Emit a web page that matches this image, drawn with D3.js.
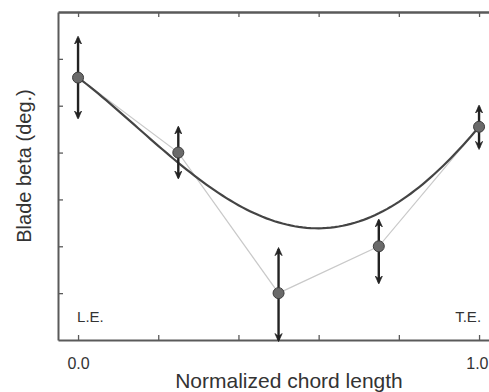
<!DOCTYPE html>
<html>
<head>
<meta charset="utf-8">
<script src="https://cdn.jsdelivr.net/npm/d3@7/dist/d3.min.js"></script>
<style>
  html, body { margin: 0; padding: 0; background: #fff; }
  svg { display: block; font-family: "Liberation Sans", Arial, sans-serif; }
</style>
</head>
<body>
<svg id="chart" width="489" height="392"></svg>
<script>
// Control points of the blade beta distribution (normalized chord, beta)
const chord = [0.0, 0.25, 0.5, 0.75, 1.0];
const beta = [5.6, 4.0, 1.0, 2.0, 4.55];
// Allowed adjustment range of each control point
const rangeUp = [0.85, 0.53, 0.94, 0.55, 0.43];
const rangeDown = [0.85, 0.53, 1.0, 0.77, 0.45];
// Axis ticks
const xTicks = [0, 0.2, 0.4, 0.6, 0.8, 1.0];
const xTickLabels = ["0.0", "", "", "", "", "1.0"];
const yTicks = [1, 2, 3, 4, 5, 6];

const svg = d3.select("#chart");
const x = d3.scaleLinear().domain([-0.05, 1.05]).range([58, 499.1]);
const y = d3.scaleLinear().domain([0, 7]).range([340, 12]);

const axisColor = "#5a5a5a";

// Bottom axis
const gx = svg.append("g").attr("transform", `translate(0,${y(0)})`)
  .call(d3.axisBottom(x).tickValues(xTicks).tickSizeInner(-5).tickSizeOuter(0)
    .tickPadding(18).tickFormat((d, i) => xTickLabels[i]));
// Top axis
const gt = svg.append("g").attr("transform", `translate(0,${y(7)})`)
  .call(d3.axisTop(x).tickValues(xTicks).tickSizeInner(-5).tickSizeOuter(0).tickFormat(""));
// Left axis
const gy = svg.append("g").attr("transform", `translate(${x(-0.05)},0)`)
  .call(d3.axisLeft(y).tickValues(yTicks).tickSizeInner(-5).tickSizeOuter(0).tickFormat(""));

[gx, gt, gy].forEach(g => {
  g.select(".domain").attr("stroke", axisColor).attr("stroke-width", 2);
  g.selectAll(".tick line").attr("stroke", axisColor).attr("stroke-width", 1.3);
});
gt.select(".domain").attr("stroke-width", 2.4);
gx.selectAll(".tick text")
  .attr("font-size", 16).attr("fill", "#333").attr("font-family", "Liberation Sans, Arial, sans-serif");
// keep the last label inside the right edge
gx.selectAll(".tick text").filter((d, i) => i === xTicks.length - 1)
  .attr("text-anchor", "end").attr("x", 488 - x(1));

// Control polygon
const pts = chord.map((c, i) => [c, beta[i]]);
svg.append("path")
  .attr("d", d3.line().x(d => x(d[0])).y(d => y(d[1]))(pts))
  .attr("fill", "none").attr("stroke", "#c9c9c9").attr("stroke-width", 1.2);

// Bezier curve defined by the control points (de Casteljau evaluation)
function bezier(p, t) {
  let q = p.map(d => d.slice());
  for (let k = 1; k < q.length; k++)
    for (let i = 0; i < q.length - k; i++)
      q[i] = [q[i][0] * (1 - t) + q[i + 1][0] * t, q[i][1] * (1 - t) + q[i + 1][1] * t];
  return q[0];
}
const curve = d3.range(0, 1.0001, 0.01).map(t => bezier(pts, t));
svg.append("path")
  .attr("d", d3.line().x(d => x(d[0])).y(d => y(d[1]))(curve))
  .attr("fill", "none").attr("stroke", "#444").attr("stroke-width", 2.2);

// Double-headed arrows showing the adjustment range
const defs = svg.append("defs");
defs.append("marker").attr("id", "head")
  .attr("viewBox", "0 0 10 10").attr("refX", 8).attr("refY", 5)
  .attr("markerWidth", 3.4).attr("markerHeight", 3.4).attr("orient", "auto-start-reverse")
  .attr("markerUnits", "strokeWidth")
  .append("path").attr("d", "M0,0.5 L10,5 L0,9.5 L3.5,5 Z")
  .attr("fill", "#222").attr("stroke", "#222").attr("stroke-width", 0.8).attr("stroke-linejoin", "round");

svg.append("g").selectAll("line").data(chord).join("line")
  .attr("x1", d => x(d)).attr("x2", d => x(d))
  .attr("y1", (d, i) => y(beta[i] - rangeDown[i]))
  .attr("y2", (d, i) => y(beta[i] + rangeUp[i]))
  .attr("stroke", "#222").attr("stroke-width", 2.4)
  .attr("marker-start", "url(#head)").attr("marker-end", "url(#head)");

// Control point markers
svg.append("g").selectAll("circle").data(chord).join("circle")
  .attr("cx", d => x(d)).attr("cy", (d, i) => y(beta[i]))
  .attr("r", 5.5).attr("fill", "#6a6a6a").attr("stroke", "#3c3c3c").attr("stroke-width", 1);

// Leading / trailing edge labels
svg.append("text").attr("x", x(0) - 1).attr("y", 322).attr("font-size", 15)
  .attr("fill", "#333").text("L.E.");
svg.append("text").attr("x", x(1) + 2).attr("y", 322).attr("font-size", 15)
  .attr("text-anchor", "end").attr("fill", "#333").text("T.E.");

// Axis titles
svg.append("text").attr("x", 289).attr("y", 388).attr("font-size", 21)
  .attr("text-anchor", "middle").attr("fill", "#333").text("Normalized chord length");
svg.append("text").attr("transform", "translate(31,166) rotate(-90)").attr("font-size", 20)
  .attr("text-anchor", "middle").attr("fill", "#333").text("Blade beta (deg.)");
</script>
</body>
</html>
